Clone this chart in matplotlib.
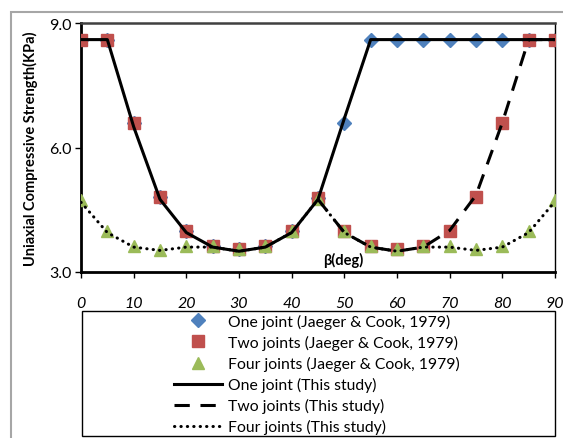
import matplotlib.pyplot as plt
from matplotlib.patches import Rectangle

plt.rcParams['font.family'] = ['Lato', 'DejaVu Sans']

angles = [0, 5, 10, 15, 20, 25, 30, 35, 40, 45, 50, 55, 60, 65, 70, 75, 80, 85, 90]
one_ref = [8.6, 8.6, 6.6, 4.8, 4.0, 3.62, 3.55, 3.62, 4.0, 4.78,
           6.58, 8.6, 8.6, 8.6, 8.6, 8.6, 8.6, 8.6, 8.6]
two_ref = [8.6, 8.6, 6.6, 4.8, 4.0, 3.62, 3.55, 3.62, 4.0, 4.78,
           4.0, 3.62, 3.55, 3.62, 4.0, 4.8, 6.6, 8.6, 8.6]
four_ref = [4.73, 4.0, 3.62, 3.54, 3.62, 3.62, 3.55, 3.62, 4.0, 4.76,
            4.0, 3.62, 3.55, 3.62, 3.62, 3.55, 3.62, 4.0, 4.73]

one_model = [8.6, 8.6, 6.5, 4.75, 3.95, 3.6, 3.5, 3.6, 3.95, 4.75,
             6.7, 8.6, 8.6, 8.6, 8.6, 8.6, 8.6, 8.6, 8.6]
two_angles = [45, 50, 55, 60, 65, 70, 75, 80, 85, 90]
two_model = [4.75, 3.95, 3.6, 3.5, 3.6, 4.0, 4.85, 6.6, 8.6, 8.6]
four_model = [4.68, 3.95, 3.6, 3.52, 3.6, 3.6, 3.5, 3.6, 3.95, 4.75,
              3.95, 3.6, 3.5, 3.6, 3.6, 3.52, 3.6, 3.95, 4.7]

labels = ['One joint (Jaeger & Cook, 1979)', 'Two joints (Jaeger & Cook, 1979)',
          'Four joints (Jaeger & Cook, 1979)', 'One joint (This study)',
          'Two joints (This study)', 'Four joints (This study)']

fig = plt.figure(figsize=(5.63, 4.39), dpi=100)
ax = fig.add_axes([81/563, 1-273/439, 474/563, 249/439])

# outer chart border (Excel chart area)
fig.patches.append(Rectangle((11/563, -0.1), 1.2, 1 - 13/439 + 0.1, transform=fig.transFigure,
                             fill=False, edgecolor='#a6a6a6', linewidth=1.5))

h1, = ax.plot(angles, one_ref, 'D', color='#4f81bd', ms=7, ls='none', zorder=2)
h2, = ax.plot(angles, two_ref, 's', color='#c0504d', ms=9, ls='none', zorder=3)
h3, = ax.plot(angles, four_ref, '^', color='#9bbb59', ms=9, ls='none', zorder=4)
h4, = ax.plot(angles, one_model, '-', color='black', lw=2.2, zorder=6)
h5, = ax.plot(two_angles, two_model, color='black', lw=2.2, dashes=(5, 3.5), zorder=6)
h6, = ax.plot(angles, four_model, color='black', lw=2.2, zorder=5,
              linestyle=(0, (0.1, 2.0)), dash_capstyle='round')

ax.set_xlim(0, 90)
ax.set_ylim(3, 9)
ax.set_xticks(range(0, 91, 10))
ax.set_yticks([3, 6, 9])
ax.set_yticklabels(['3.0', '6.0', '9.0'], fontsize=11.5)
ax.set_xticklabels([str(v) for v in range(0, 91, 10)], fontsize=11.5, style='italic')
ax.tick_params(axis='both', direction='out', length=4, width=1, pad=3)
ax.tick_params(axis='x', pad=13)
for s in ['left', 'bottom']:
    ax.spines[s].set_linewidth(2)
ax.spines['top'].set_linewidth(1.8)
ax.spines['top'].set_color('#404040')
ax.spines['right'].set_linewidth(1)

ax.set_ylabel('Uniaxial Compressive Strength(KPa)', fontsize=10.5, fontweight='bold', labelpad=8)
ax.text(49.7, 3.3, 'β(deg)', fontsize=10.5, fontweight='bold', ha='center', va='center')

fig.patches.append(Rectangle((82/563, 2/439), 473/563, 125/439, transform=fig.transFigure,
                             fill=False, edgecolor='black', linewidth=1))
fig.legend([h1, h2, h3, h4, h5, h6], labels, loc='center', frameon=False,
           bbox_to_anchor=(317/563, 1 - 375/439), fontsize=11.3,
           handlelength=3.0, handletextpad=0.4, labelspacing=0.38)

fig.savefig('out.png', dpi=100)
